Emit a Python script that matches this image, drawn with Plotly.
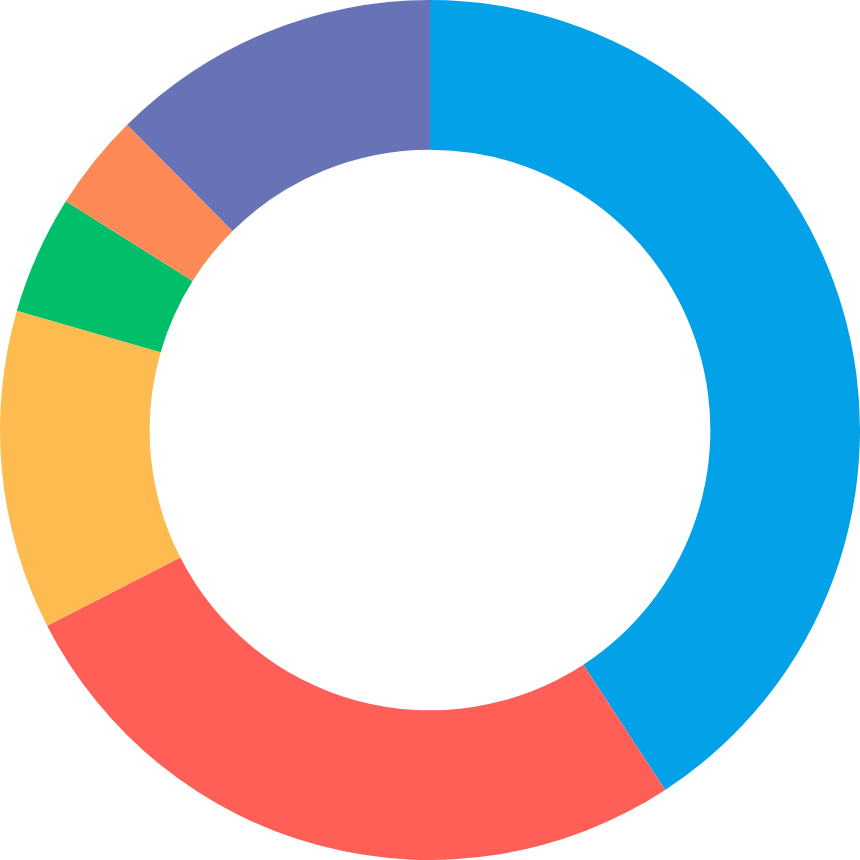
import plotly.graph_objects as go

labels = ["A", "B", "C", "D", "E", "F"]
values = [40.8, 26.7, 12.0, 4.45, 3.64, 12.44]
colors = ["#03A2E8", "#FF5F57", "#FDBB50", "#00BF68", "#FD8957", "#6873B7"]

fig = go.Figure(go.Pie(
    labels=labels,
    values=values,
    hole=0.652,
    sort=False,
    direction="clockwise",
    rotation=0,
    textinfo="none",
    marker=dict(colors=colors, line=dict(width=0)),
    domain=dict(x=[0, 1], y=[0, 1]),
))
fig.update_layout(
    width=860, height=860,
    margin=dict(l=0, r=0, t=0, b=0),
    showlegend=False,
    paper_bgcolor="white",
    plot_bgcolor="white",
)
fig.write_html(
    "out.html",
    config={"displayModeBar": False},
    post_script="document.body.style.margin='0';document.body.style.overflow='hidden';",
)
